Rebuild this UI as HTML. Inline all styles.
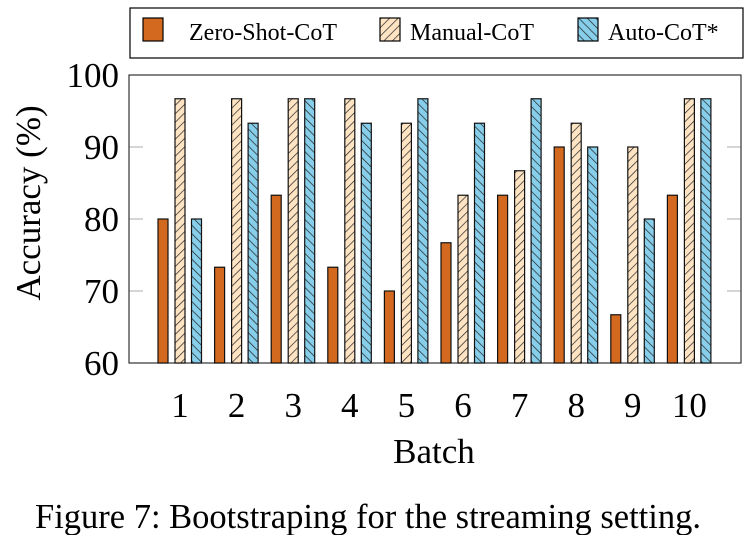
<!DOCTYPE html>
<html><head><meta charset="utf-8"><style>
body{margin:0;background:#fff;}
svg text{font-family:"Liberation Serif",serif;fill:#000;}
</style></head><body>
<svg width="749" height="535" viewBox="0 0 749 535">
<defs>
<pattern id="ne" patternUnits="userSpaceOnUse" width="6" height="6" patternTransform="rotate(45)"><rect width="6" height="6" fill="#FFE4C4"/><line x1="0" y1="0" x2="0" y2="6" stroke="#222" stroke-width="1.4"/></pattern>
<pattern id="nw" patternUnits="userSpaceOnUse" width="6" height="6" patternTransform="rotate(-45)"><rect width="6" height="6" fill="#87CEEB"/><line x1="0" y1="0" x2="0" y2="6" stroke="#222" stroke-width="1.4"/></pattern>
</defs>
<g id="legend">
<rect x="130" y="8" width="613" height="50" fill="#fff" stroke="#000" stroke-width="1.2"/>
<rect x="143" y="18" width="20" height="23" fill="#D2691E" stroke="#000" stroke-width="1.2"/>
<text x="189" y="40" font-size="24">Zero-Shot-CoT</text>
<rect x="380" y="18" width="20" height="23" fill="url(#ne)" stroke="#000" stroke-width="1.2"/>
<text x="410" y="40" font-size="24">Manual-CoT</text>
<rect x="578" y="18" width="20" height="23" fill="url(#nw)" stroke="#000" stroke-width="1.2"/>
<text x="608" y="40" font-size="24">Auto-CoT*</text>
</g>
<g id="axes"></g>
<g id="bars"></g>
<text x="0" y="0" font-size="35" text-anchor="middle" transform="translate(40 203) rotate(-90)">Accuracy (%)</text>
<text x="434" y="463" font-size="35" text-anchor="middle">Batch</text>
<text x="368" y="528" font-size="34.5" text-anchor="middle">Figure 7: Bootstraping for the streaming setting.</text>
</svg>
<script>
const categories=["1","2","3","4","5","6","7","8","9","10"];
const zeroShot=[80,73.3,83.3,73.3,70,76.7,83.3,90,66.7,83.3];
const manualCot=[96.7,96.7,96.7,96.7,93.3,83.3,86.7,93.3,90,96.7];
const autoCot=[80,93.3,96.7,93.3,96.7,93.3,96.7,90,80,96.7];
const yTicks=[60,70,80,90,100];
const NS="http://www.w3.org/2000/svg";
const L=129,R=741,T=75,B=363;
function y(v){return B-(v-60)/40*(B-T);}
function x(i){return 180+i*56.6;}
function mk(tag,attrs,parent){const e=document.createElementNS(NS,tag);for(const k in attrs)e.setAttribute(k,attrs[k]);parent.appendChild(e);return e;}
const ax=document.getElementById('axes'),bars=document.getElementById('bars');
yTicks.forEach(t=>{
  if(t>60&&t<100){
    const a=mk('line',{x1:L,x2:L+14,y1:y(t),y2:y(t),stroke:'#bbb','stroke-width':1.2},ax);
    
    
    const b=mk('line',{x1:R-14,x2:R,y1:y(t),y2:y(t),stroke:'#bbb','stroke-width':1.2},ax);
    
    
  }
  const tx=mk('text',{x:L-10,y:y(t)+12,'font-size':35,'text-anchor':'end'},ax);
  tx.textContent=t;
  
  
});
const fr=mk('rect',{x:L,y:T,width:R-L,height:B-T,fill:'none',stroke:'#333','stroke-width':1.2},ax);


categories.forEach((c,i)=>{
  const tx=mk('text',{x:x(i),y:417,'font-size':35,'text-anchor':'middle'},ax);
  tx.textContent=c;
  
  
});
const series=[[zeroShot,'#D2691E',-17,'bar-zero-shot'],[manualCot,'url(#ne)',0,'bar-manual'],[autoCot,'url(#nw)',16.5,'bar-auto']];
series.forEach(([vals,fill,off,name])=>{
  vals.forEach((v,i)=>{
    const r=mk('rect',{x:x(i)+off-5,y:y(v),width:10,height:B-y(v),fill:fill,stroke:'#111','stroke-width':1.2},bars);
    
    
  });
});
</script>
</body></html>
